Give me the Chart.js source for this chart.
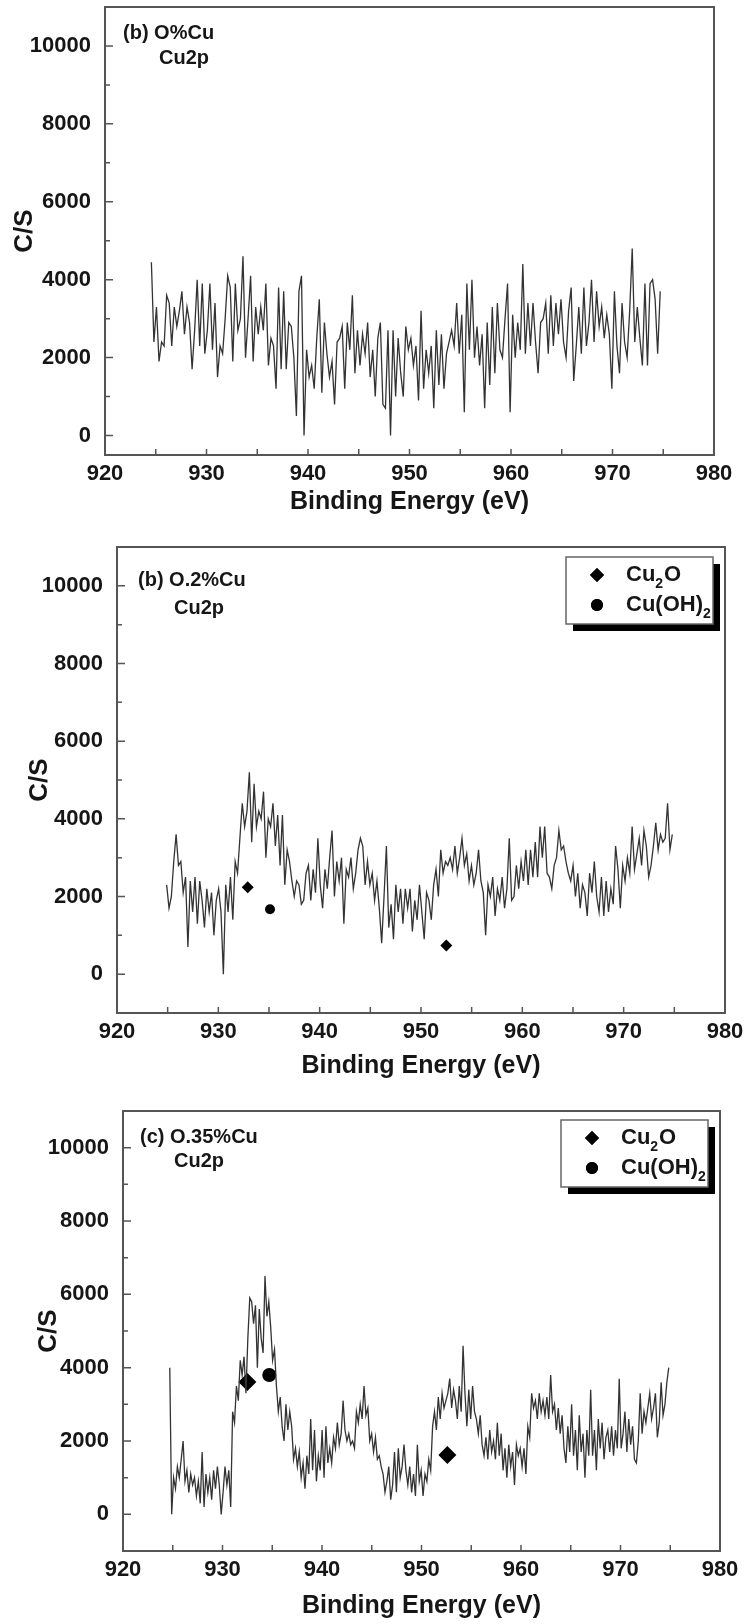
<!DOCTYPE html>
<html>
<head>
<meta charset="utf-8">
<script src="https://cdn.jsdelivr.net/npm/chart.js@4.4.1/dist/chart.umd.min.js"></script>
<style>
  html, body { margin: 0; padding: 0; background: #fff; }
  body { width: 747px; height: 1624px; position: relative; overflow: hidden; }
  canvas { position: absolute; left: 0; }
</style>
</head>
<body>
<canvas id="c1" width="747" height="530" style="top:0px"></canvas>
<canvas id="c2" width="747" height="555" style="top:530px"></canvas>
<canvas id="c3" width="747" height="539" style="top:1085px"></canvas>
<script>
// ---- data ----
const panelTags = ['(b) O%Cu', '(b) O.2%Cu', '(c) O.35%Cu'];
const panelLine = 'Cu2p';
const legendNames = ['Cu2O', 'Cu(OH)2'];
const xTickLabels = [920, 930, 940, 950, 960, 970, 980];
const yTickLabels = [0, 2000, 4000, 6000, 8000, 10000];
const yTickMarks = [0, 1000, 2000, 3000, 4000, 5000, 6000, 7000, 8000, 9000, 10000];

// energy span of each recorded spectrum (eV), sampled evenly
const span1 = [924.57, 974.7];
const span2 = [924.9, 974.8];
const span3 = [924.7, 974.85];

// counts per second, 0 % Cu
const counts1 = [4450, 2400, 3300, 1900, 2400, 2300, 3600, 3400, 2300, 3300, 2800, 3200, 3700, 2600, 3300, 2900, 1700, 2700, 4000, 2300,
  3900, 2100, 2700, 3900, 2200, 3400, 1500, 2300, 2100, 3000, 4100, 3800, 1900, 3900, 2700, 3000, 4600, 2000, 3000, 4100,
  1900, 3300, 2600, 3300, 2700, 3900, 1800, 2500, 2300, 1200, 3800, 1700, 3700, 1700, 2900, 2800, 2000, 500, 3700, 4100,
  0, 2200, 1500, 1800, 1200, 2500, 3500, 1100, 2900, 2100, 1500, 1900, 800, 2400, 2500, 2800, 1200, 2900, 2200, 3600,
  1600, 2700, 1800, 2600, 2100, 2900, 1500, 2200, 1000, 2500, 2900, 800, 700, 2700, 0, 2700, 1000, 2500, 1600, 1000,
  2800, 2200, 2500, 1800, 2300, 900, 3200, 1200, 2200, 1600, 2300, 700, 2700, 1300, 2600, 1200, 2100, 2400, 2700, 2300,
  3400, 2100, 3100, 600, 3900, 2200, 4000, 2000, 2800, 1800, 2600, 700, 2900, 1300, 3300, 1600, 3400, 2200, 2000, 3000,
  3900, 600, 3100, 2000, 2900, 2200, 4400, 2100, 3400, 2300, 3400, 2400, 1600, 2900, 3000, 3400, 2100, 3600, 2300, 3400,
  2600, 3500, 2400, 2000, 3200, 3800, 1400, 2300, 3300, 2100, 3800, 2300, 2900, 4000, 2400, 3700, 2800, 3300, 2500, 3100,
  2600, 1200, 3700, 2300, 1600, 3400, 2400, 2000, 3200, 4800, 2400, 3300, 2500, 1800, 3900, 1800, 3900, 4000, 3500, 2100, 3700];

// counts per second, 0.2 % Cu
const counts2 = [2300, 1700, 2000, 2900, 3600, 2800, 2900, 2100, 2500, 700, 2400, 1600, 2500, 1300, 2400, 1900, 1200, 2200, 1600, 2100,
  1000, 1900, 2200, 1600, 0, 2300, 1600, 2500, 1400, 2900, 2600, 3500, 4400, 3800, 4200, 5200, 3400, 4900, 3800, 4200,
  4000, 4700, 3000, 4000, 3800, 4400, 3300, 4100, 2800, 4100, 2300, 3200, 2900, 2400, 2000, 2400, 2300, 1800, 1900, 2600,
  2800, 1900, 2700, 2100, 3500, 2300, 1700, 2700, 2200, 3000, 3700, 2000, 2900, 2400, 3000, 1300, 2700, 2500, 3000, 2200,
  2600, 3200, 3500, 3300, 2300, 2900, 2300, 2600, 1900, 2400, 1700, 800, 2000, 3300, 1200, 1800, 900, 2300, 1600, 2200,
  1300, 2200, 1700, 2200, 1100, 1900, 1400, 2300, 1600, 900, 2100, 1900, 1400, 2300, 2700, 2000, 3200, 2600, 2900, 2800,
  3000, 2700, 3300, 2600, 3000, 3500, 2800, 3100, 2400, 2800, 2300, 2600, 3200, 2400, 2100, 1000, 2300, 2000, 2500, 1500,
  2200, 1900, 2500, 1700, 2200, 3500, 1900, 2000, 2800, 2200, 2900, 2400, 3200, 2300, 3200, 2500, 3400, 2500, 3800, 3000,
  3800, 2600, 2500, 2200, 2800, 3000, 3700, 3200, 3300, 2900, 2600, 2400, 2800, 2000, 2600, 1700, 2300, 2100, 1500, 2600,
  2100, 2900, 2000, 1600, 2500, 1500, 2400, 1600, 2200, 1800, 3300, 2700, 1700, 2800, 2400, 3000, 2600, 3800, 2700, 3100,
  3500, 2800, 3700, 3300, 2500, 2800, 3300, 3900, 3200, 3600, 3400, 3500, 4400, 3200, 3600];

// counts per second, 0.35 % Cu
const counts3 = [4000, 0, 1000, 700, 1300, 1000, 1500, 2000, 900, 1200, 600, 1100, 800, 1000, 500, 900, 300, 1700, 200, 1100,
  600, 1000, 400, 1200, 700, 1300, 800, 0, 600, 1300, 800, 1200, 200, 2800, 2500, 3500, 3100, 4200, 3800, 4300,
  3300, 4800, 5900, 5800, 5200, 5700, 4000, 5600, 4800, 4400, 6500, 5400, 5800, 5100, 4200, 4500, 3500, 2800, 3200, 2400,
  2000, 3000, 2300, 2800, 2400, 1500, 1800, 1300, 1700, 1000, 1400, 700, 1600, 1100, 2600, 1200, 2300, 900, 1600, 1200,
  2300, 1000, 2400, 1400, 1800, 1400, 2100, 1800, 2500, 1900, 2200, 3100, 2300, 2000, 2200, 1900, 2000, 1800, 2800, 2500,
  3000, 2600, 3500, 2700, 2900, 2000, 2200, 1700, 2100, 1500, 1600, 1300, 1100, 600, 900, 1300, 400, 800, 1700, 600,
  1800, 1000, 1300, 1900, 1200, 800, 1300, 600, 1100, 500, 1900, 900, 1200, 500, 1100, 900, 1500, 1200, 2400, 2800,
  2300, 3200, 2600, 3300, 2900, 3100, 3300, 3700, 2900, 3400, 3100, 2600, 3500, 2800, 4600, 3300, 2400, 3400, 2600, 3500,
  2800, 2600, 2200, 2700, 1900, 1600, 2100, 1500, 2300, 1700, 2000, 1500, 2500, 1600, 2200, 1200, 1800, 1000, 1900, 1300,
  1700, 800, 1900, 1600, 1800, 1300, 1800, 1100, 2400, 2100, 3300, 2900, 3100, 2600, 3300, 2800, 3100, 2700, 3200, 2600,
  3800, 2800, 3000, 2300, 2900, 2200, 2700, 1800, 1400, 2400, 1700, 3000, 1600, 2300, 1200, 2700, 1700, 2200, 1000, 2300,
  1600, 3400, 1600, 2300, 1200, 2600, 1800, 2500, 1500, 2100, 2300, 1700, 2400, 1600, 2300, 1800, 3700, 1800, 2200, 2800,
  1700, 2600, 1900, 2400, 1500, 1400, 2000, 3300, 2200, 2800, 2500, 2900, 3300, 2600, 2900, 3300, 2100, 2500, 3600, 2700,
  3000, 3600, 4000];

// peak markers
const cu2oEnergy2 = [932.9, 952.5];
const cu2oCounts2 = [2240, 740];
const cuohEnergy2 = [935.1];
const cuohCounts2 = [1670];
const cu2oEnergy3 = [932.5, 952.6];
const cu2oCounts3 = [3610, 1620];
const cuohEnergy3 = [934.7];
const cuohCounts3 = [3800];

// ---- drawing ----
const FONT = "'Liberation Sans', Arial, sans-serif";
Chart.defaults.font.family = FONT;
const INK = '#161616';

function spectrum(span, counts) {
  const step = (span[1] - span[0]) / (counts.length - 1);
  return counts.map((c, i) => ({ x: span[0] + i * step, y: c }));
}
function pairs(xs, ys) {
  return xs.map((x, i) => ({ x: x, y: ys[i] }));
}

// draws "Cu2O" style names with the digits lowered as subscripts
function drawFormula(ctx, text, x, y) {
  let cx = x;
  text.split(/(\d)/).forEach(part => {
    if (!part) return;
    const sub = /^\d$/.test(part);
    ctx.font = sub ? 'bold 14px ' + FONT : 'bold 22px ' + FONT;
    ctx.fillText(part, cx, sub ? y + 9 : y);
    cx += ctx.measureText(part).width + (sub ? 1 : 0);
  });
}

function makePanel(id, cfg) {
  const el = document.getElementById(id);
  const H = el.height;
  const deco = {
    id: 'deco' + id,
    afterDraw(chart) {
      const ctx = chart.ctx, a = chart.chartArea, sx = chart.scales.x, sy = chart.scales.y;
      ctx.save();
      // inner ticks
      ctx.strokeStyle = '#555';
      ctx.lineWidth = 1.5;
      ctx.beginPath();
      sx.ticks.forEach(t => {
        const px = sx.getPixelForValue(t.value);
        if (px <= a.left + 2 || px >= a.right - 2) return;
        ctx.moveTo(px, a.bottom);
        ctx.lineTo(px, a.bottom - 6);
      });
      sy.ticks.forEach(t => {
        const py = sy.getPixelForValue(t.value);
        ctx.moveTo(a.left, py);
        ctx.lineTo(a.left + (yTickLabels.includes(t.value) ? 8 : 5), py);
      });
      ctx.stroke();
      // frame
      ctx.lineWidth = 2;
      ctx.strokeRect(a.left, a.top, a.right - a.left, a.bottom - a.top);
      // sample tag
      ctx.fillStyle = INK;
      ctx.textBaseline = 'middle';
      ctx.textAlign = 'left';
      ctx.font = 'bold 20px ' + FONT;
      ctx.fillText(cfg.tag, a.left + cfg.tagAt[0], a.top + cfg.tagAt[1]);
      ctx.fillText(panelLine, a.left + cfg.lineAt[0], a.top + cfg.lineAt[1]);
      // legend box with drop shadow
      if (cfg.legend) {
        const w = 147, h = 67;
        const bx = a.right - cfg.legend[0] - w, by = a.top + cfg.legend[1];
        ctx.fillStyle = '#000';
        ctx.fillRect(bx + 7, by + 7, w, h);
        ctx.fillStyle = '#fff';
        ctx.fillRect(bx, by, w, h);
        ctx.strokeStyle = '#666';
        ctx.lineWidth = 1.5;
        ctx.strokeRect(bx, by, w, h);
        const styles = ['rectRot', 'circle'];
        const radii = [7, 6];
        legendNames.forEach((name, i) => {
          const ly = by + 18 + i * 30;
          ctx.fillStyle = '#000';
          Chart.helpers.drawPoint(ctx, { pointStyle: styles[i], radius: radii[i], borderWidth: 0 }, bx + 31, ly);
          ctx.fill();
          ctx.fillStyle = INK;
          ctx.textBaseline = 'middle';
          drawFormula(ctx, name, bx + 60, ly);
        });
      }
      ctx.restore();
    }
  };

  const datasets = [{
    data: spectrum(cfg.span, cfg.counts),
    showLine: true,
    borderColor: '#333',
    borderWidth: 1.3,
    pointRadius: 0,
    tension: 0
  }];
  if (cfg.cu2o) {
    datasets.push({ data: cfg.cu2o, pointStyle: 'rectRot', pointRadius: cfg.markR[0], backgroundColor: '#000', borderColor: '#000', borderWidth: 0 });
    datasets.push({ data: cfg.cuoh, pointStyle: 'circle', pointRadius: cfg.markR[1], backgroundColor: '#000', borderColor: '#000', borderWidth: 0 });
  }

  return new Chart(el, {
    type: 'scatter',
    data: { datasets: datasets },
    options: {
      responsive: false,
      animation: false,
      devicePixelRatio: 1,
      layout: { padding: { top: cfg.box[1], right: 747 - cfg.box[2], left: 0, bottom: 0 } },
      plugins: { legend: { display: false }, tooltip: { enabled: false } },
      scales: {
        x: {
          type: 'linear', min: 920, max: 980,
          afterFit(s) { s.height = H - cfg.box[3]; s.paddingLeft = 0; s.paddingRight = 0; },
          grid: { display: false, drawTicks: false },
          border: { display: false },
          ticks: {
            stepSize: 5, autoSkip: false, maxRotation: 0, padding: 6, color: INK,
            font: { size: 22, weight: 'bold' },
            callback: v => xTickLabels.includes(v) ? String(v) : ''
          },
          title: {
            display: true, text: 'Binding Energy (eV)', color: INK,
            font: { size: 25, weight: 'bold' },
            padding: { top: 0, bottom: cfg.xTitlePad }
          }
        },
        y: {
          min: cfg.yMin, max: 11000,
          afterBuildTicks(s) { s.ticks = yTickMarks.map(v => ({ value: v })); },
          afterFit(s) { s.width = cfg.box[0]; s.paddingTop = 0; s.paddingBottom = 0; },
          grid: { display: false, drawTicks: false },
          border: { display: false },
          ticks: {
            autoSkip: false, padding: 14, color: INK,
            font: { size: 22, weight: 'bold' },
            callback: v => yTickLabels.includes(v) ? String(v) : ''
          },
          title: {
            display: true, text: 'C/S', color: INK,
            font: { size: 26, weight: 'bold' },
            padding: { top: cfg.yTitlePad, bottom: 0 }
          }
        }
      }
    },
    plugins: [deco]
  });
}

// box = [left, top, right, bottom] of the plot frame inside each canvas
makePanel('c1', {
  tag: panelTags[0], span: span1, counts: counts1, yMin: -500,
  box: [105, 7, 714, 455], xTitlePad: 13, yTitlePad: 9,
  tagAt: [18, 26], lineAt: [54, 51]
});
makePanel('c2', {
  tag: panelTags[1], span: span2, counts: counts2, yMin: -1000,
  box: [117, 17, 725, 483], xTitlePad: 4, yTitlePad: 24,
  tagAt: [21, 33], lineAt: [57, 61], legend: [12, 10],
  cu2o: pairs(cu2oEnergy2, cu2oCounts2), cuoh: pairs(cuohEnergy2, cuohCounts2), markR: [6, 5]
});
makePanel('c3', {
  tag: panelTags[2], span: span3, counts: counts3, yMin: -1000,
  box: [123, 26, 720, 466], xTitlePad: 3, yTitlePad: 33,
  tagAt: [17, 26], lineAt: [51, 50], legend: [12, 9],
  cu2o: pairs(cu2oEnergy3, cu2oCounts3), cuoh: pairs(cuohEnergy3, cuohCounts3), markR: [9, 7]
});
</script>
</body>
</html>
